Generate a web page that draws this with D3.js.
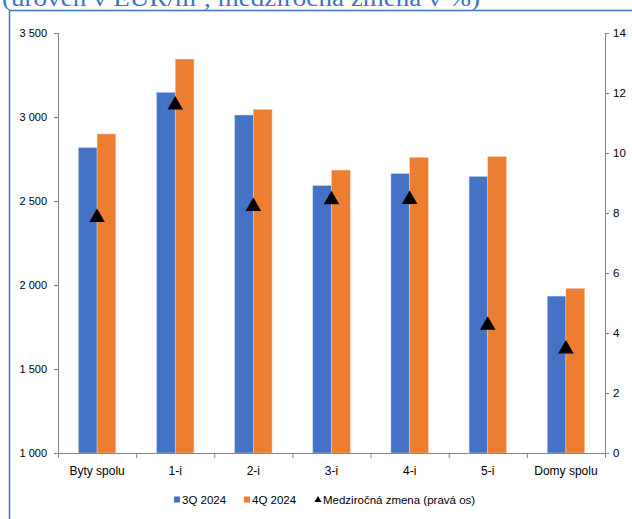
<!DOCTYPE html>
<html><head><meta charset="utf-8">
<script src="https://cdn.jsdelivr.net/npm/d3@7"></script>
<style>html,body{margin:0;padding:0;background:#fff;overflow:hidden}</style>
</head><body>
<svg id="c" width="632" height="519"></svg>
<script>
const categories = ["Byty spolu","1-i","2-i","3-i","4-i","5-i","Domy spolu"];
const q3_2024 = [2818, 3147, 3012, 2592, 2663, 2646, 1934];
const q4_2024 = [2899, 3345, 3045, 2684, 2760, 2764, 1980];
const yoyChange = [7.85, 11.6, 8.22, 8.44, 8.45, 4.26, 3.47];
const leftTicks = [1000,1500,2000,2500,3000,3500];
const rightTicks = [0,2,4,6,8,10,12,14];
const seriesNames = ["3Q 2024","4Q 2024","Medziročná zmena (pravá os)"];
const title = "(úroveň v EUR/m², medziročná zmena v %)";

const svg = d3.select("#c");
const font = "'Liberation Sans', Arial, sans-serif";
const blue = "#4472c4", orange = "#ed7d31", axisCol = "#868686";

const x = d3.scaleBand().domain(categories).range([58,605]).paddingInner(0).paddingOuter(0);
const yL = d3.scaleLinear().domain([1000,3500]).range([453,33]);
const yR = d3.scaleLinear().domain([0,14]).range([453,33]);
const bw = 18.7;

// title and frame
svg.append("text").attr("x",2).attr("y",6).attr("fill",blue)
  .attr("font-family","'Liberation Serif', 'DejaVu Serif', serif").attr("font-size",23)
  .attr("textLength",478).attr("lengthAdjust","spacingAndGlyphs").text(title);
svg.append("path").attr("d","M9.5,519 V10.5 H632").attr("fill","none").attr("stroke",blue).attr("stroke-width",1.5);

// bars
const g = svg.append("g");
categories.forEach((c,i)=>{
  const cx = x(c)+x.bandwidth()/2;
  g.append("rect").attr("x",cx-bw).attr("width",bw).attr("y",yL(q3_2024[i])).attr("height",yL(1000)-yL(q3_2024[i]))
    .attr("fill",blue).attr("stroke","#c9d6ee").attr("stroke-width",0.5);
  g.append("rect").attr("x",cx).attr("width",bw).attr("y",yL(q4_2024[i])).attr("height",yL(1000)-yL(q4_2024[i]))
    .attr("fill",orange).attr("stroke","#f8cdb0").attr("stroke-width",0.5);
});

// axes
const la = d3.axisLeft(yL).tickValues(leftTicks).tickSize(4).tickPadding(7)
  .tickFormat(d=>d3.format(",")(d).replace(/,/g," "));
const lg = svg.append("g").attr("transform","translate(58,0)").call(la);
const ra = d3.axisRight(yR).tickValues(rightTicks).tickSize(4).tickPadding(4);
const rg = svg.append("g").attr("transform","translate(605,0)").call(ra);
const xa = d3.axisBottom(x).tickSize(0).tickPadding(13);
const xg = svg.append("g").attr("transform","translate(0,453)").call(xa);
[lg,rg,xg].forEach(a=>{
  a.select(".domain").attr("stroke",axisCol);
  a.selectAll(".tick line").attr("stroke",axisCol);
  a.selectAll("text").attr("font-family",font).attr("fill","#000");
});
lg.selectAll("text").attr("font-size",11);
rg.selectAll("text").attr("font-size",11.5);
xg.selectAll("text").attr("font-size",12);
lg.select(".domain").attr("d","M0.5,33V453.5");
rg.select(".domain").attr("d","M0.5,33V453.5");
xg.select(".domain").attr("d","M58,0.5H609");
// category separators
const seps = categories.map(c=>x(c)).concat([x.range()[1]]);
xg.selectAll("line.sep").data(seps).enter().append("line").attr("class","sep")
  .attr("x1",d=>d+0.5).attr("x2",d=>d+0.5).attr("y1",0).attr("y2",5).attr("stroke",axisCol);

// triangles
const tri = d3.symbol().type(d3.symbolTriangle).size(105);
svg.append("g").selectAll("path").data(yoyChange).enter().append("path")
  .attr("d",tri).attr("fill","#000")
  .attr("transform",(d,i)=>`translate(${x(categories[i])+x.bandwidth()/2},${yR(d)})`);

// legend
const leg = svg.append("g").attr("font-family",font).attr("font-size",11.5);
const ly = 500;
leg.append("rect").attr("x",174).attr("y",ly-3.5).attr("width",6).attr("height",6).attr("fill",blue);
leg.append("text").attr("x",182).attr("y",ly+4).text(seriesNames[0]);
leg.append("rect").attr("x",244).attr("y",ly-3.5).attr("width",6).attr("height",6).attr("fill",orange);
leg.append("text").attr("x",252).attr("y",ly+4).text(seriesNames[1]);
leg.append("path").attr("d",d3.symbol().type(d3.symbolTriangle).size(22)).attr("transform",`translate(318,${ly})`).attr("fill","#000");
leg.append("text").attr("x",323).attr("y",ly+4).text(seriesNames[2]);
</script>
</body></html>
